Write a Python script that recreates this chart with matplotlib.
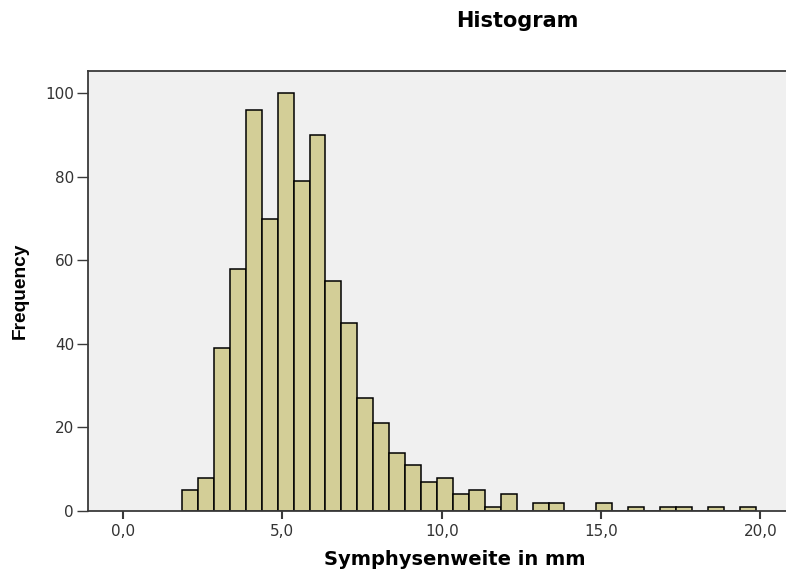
import numpy as np
import matplotlib.pyplot as plt

# -----------------------------
# DATA
# -----------------------------
bin_start = 1.85
bin_width = 0.5
counts = [5, 8, 39, 58, 96, 70, 100, 79, 90, 55, 45, 27, 21, 14, 11, 7, 8, 4,
          5, 1, 4, 0, 2, 2, 0, 0, 2, 0, 1, 0, 1, 1, 0, 1, 0, 1]
x_ticks = [0, 5, 10, 15, 20]
x_tick_labels = ['0,0', '5,0', '10,0', '15,0', '20,0']
y_ticks = [0, 20, 40, 60, 80, 100]

title = 'Histogram'
x_label = 'Symphysenweite in mm'
y_label = 'Frequency'

# -----------------------------
# STYLE
# -----------------------------
bar_color = '#d3ce97'
bg_color = '#f0f0f0'
spine_color = '#3a3a3a'

edges = bin_start + bin_width * np.arange(len(counts) + 1)

fig = plt.figure(figsize=(7.86, 5.70), dpi=100)
ax = fig.add_axes([88 / 786, 1 - 511 / 570, 1 - 88 / 786 + 0.002, (511 - 71) / 570])
ax.set_facecolor(bg_color)

ax.hist(edges[:-1], bins=edges, weights=counts, color=bar_color,
        edgecolor='black', linewidth=1.1)

ax.set_xlim(-1.1, 20.85)
ax.set_ylim(0, 105.3)

ax.set_xticks(x_ticks)
ax.set_xticklabels(x_tick_labels)
ax.set_yticks(y_ticks)
ax.tick_params(axis='x', length=6, width=1.5, pad=3, labelsize=11,
               color=spine_color, labelcolor='#333333')
ax.tick_params(axis='y', length=8, width=1.0, pad=2, labelsize=11,
               color=spine_color, labelcolor='#333333')

for side in ['left', 'bottom', 'top']:
    ax.spines[side].set_color(spine_color)
    ax.spines[side].set_linewidth(1.3)
ax.spines['right'].set_visible(False)

# titles placed like the SPSS output
fig.text(517 / 786, 1 - 27.3 / 570, title, ha='center', va='baseline',
         fontsize=15, fontweight='bold', family='DejaVu Sans')
fig.text(455 / 786, 1 - 565 / 570, x_label, ha='center', va='baseline',
         fontsize=14, fontweight='bold', family='DejaVu Sans')
fig.text(20 / 786, 1 - 291 / 570, y_label, ha='center', va='center',
         rotation=90, fontsize=13.8, fontweight='bold', family='Liberation Sans')

fig.savefig('out.png', dpi=100)
